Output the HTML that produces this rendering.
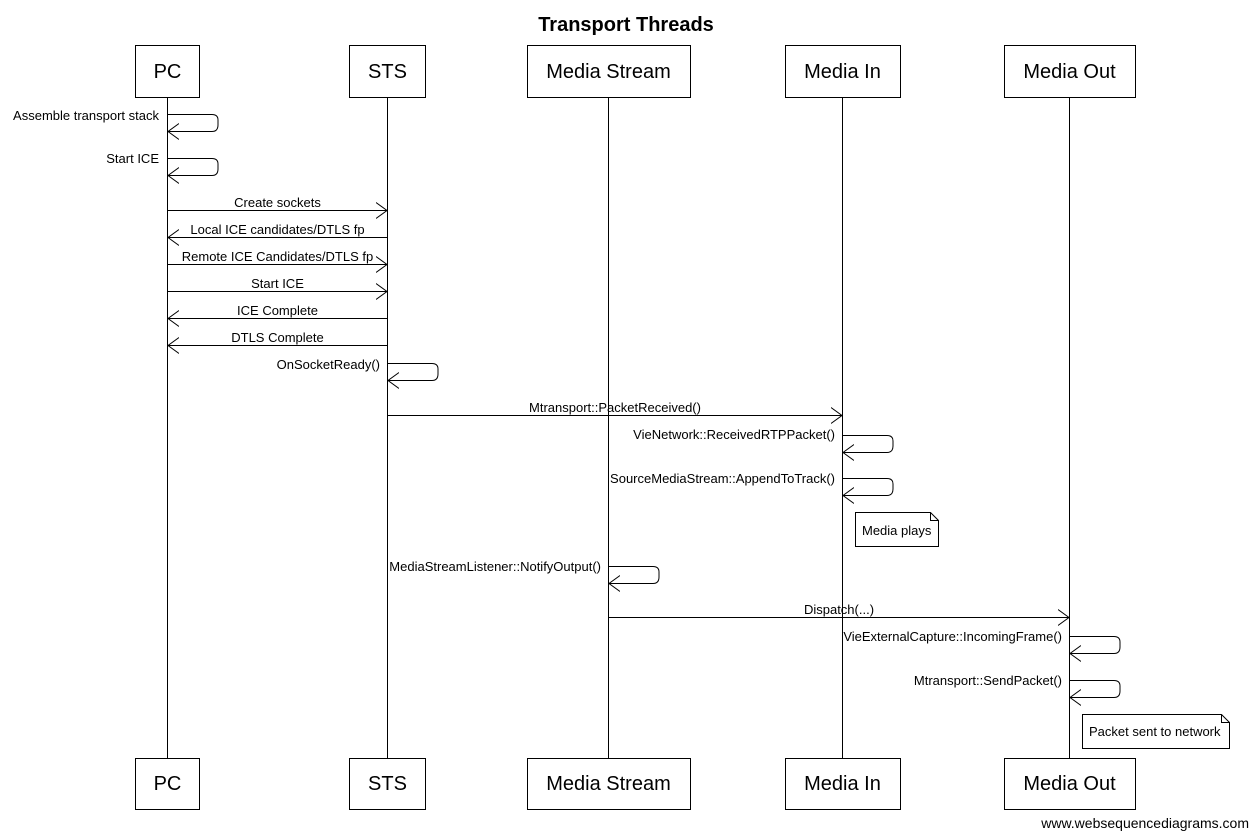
<!DOCTYPE html>
<html><head><meta charset="utf-8"><style>
html,body{margin:0;padding:0;background:#fff;}
svg{display:block;font-family:"Liberation Sans",Arial,sans-serif;}
</style></head><body>
<svg width="1250" height="831" viewBox="0 0 1250 831">
<defs>
<marker id="a" markerWidth="12" markerHeight="18" refX="11" refY="9" orient="auto" markerUnits="userSpaceOnUse">
<path d="M0,1 L11,9 L0,17" fill="none" stroke="#000" stroke-width="1"/>
</marker>
</defs>
<text x="626" y="31" text-anchor="middle" font-size="20" font-weight="bold">Transport Threads</text>
<g stroke="#000" stroke-width="1">
<line x1="167.5" y1="97" x2="167.5" y2="758"/>
<line x1="387.5" y1="97" x2="387.5" y2="758"/>
<line x1="608.5" y1="97" x2="608.5" y2="758"/>
<line x1="842.5" y1="97" x2="842.5" y2="758"/>
<line x1="1069.5" y1="97" x2="1069.5" y2="758"/>
</g>
<g fill="#fff" stroke="#000" stroke-width="1">
<rect x="135.5" y="45.5" width="64" height="52"/>
<rect x="349.5" y="45.5" width="76" height="52"/>
<rect x="527.5" y="45.5" width="163" height="52"/>
<rect x="785.5" y="45.5" width="115" height="52"/>
<rect x="1004.5" y="45.5" width="131" height="52"/>
<rect x="135.5" y="758.5" width="64" height="51"/>
<rect x="349.5" y="758.5" width="76" height="51"/>
<rect x="527.5" y="758.5" width="163" height="51"/>
<rect x="785.5" y="758.5" width="115" height="51"/>
<rect x="1004.5" y="758.5" width="131" height="51"/>
</g>
<g font-size="20" text-anchor="middle">
<text x="167.5" y="78">PC</text><text x="387.5" y="78">STS</text><text x="608.5" y="78">Media Stream</text><text x="842.5" y="78">Media In</text><text x="1069.5" y="78">Media Out</text>
<text x="167.5" y="790">PC</text><text x="387.5" y="790">STS</text><text x="608.5" y="790">Media Stream</text><text x="842.5" y="790">Media In</text><text x="1069.5" y="790">Media Out</text>
</g>
<g fill="none" stroke="#000" stroke-width="1" marker-end="url(#a)">
<path d="M168,114.5 H212 Q218,114.5 218,120 V125 Q218,131.5 212,131.5 H168"/>
<path d="M168,158.5 H212 Q218,158.5 218,164 V169 Q218,175.5 212,175.5 H168"/>
<path d="M388,363.5 H432 Q438,363.5 438,369 V374 Q438,380.5 432,380.5 H388"/>
<path d="M843,435.5 H887 Q893,435.5 893,441 V446 Q893,452.5 887,452.5 H843"/>
<path d="M843,478.5 H887 Q893,478.5 893,484 V489 Q893,495.5 887,495.5 H843"/>
<path d="M609,566.5 H653 Q659,566.5 659,572 V577 Q659,583.5 653,583.5 H609"/>
<path d="M1070,636.5 H1114 Q1120,636.5 1120,642 V647 Q1120,653.5 1114,653.5 H1070"/>
<path d="M1070,680.5 H1114 Q1120,680.5 1120,686 V691 Q1120,697.5 1114,697.5 H1070"/>
<line x1="168" y1="210.5" x2="387" y2="210.5"/>
<line x1="387" y1="237.5" x2="168" y2="237.5"/>
<line x1="168" y1="264.5" x2="387" y2="264.5"/>
<line x1="168" y1="291.5" x2="387" y2="291.5"/>
<line x1="387" y1="318.5" x2="168" y2="318.5"/>
<line x1="387" y1="345.5" x2="168" y2="345.5"/>
<line x1="388" y1="415.5" x2="842" y2="415.5"/>
<line x1="609" y1="617.5" x2="1069" y2="617.5"/>
</g>
<g font-size="13" text-anchor="end">
<text x="159" y="120">Assemble transport stack</text>
<text x="159" y="163">Start ICE</text>
<text x="380" y="369">OnSocketReady()</text>
<text x="835" y="439">VieNetwork::ReceivedRTPPacket()</text>
<text x="835" y="483">SourceMediaStream::AppendToTrack()</text>
<text x="601" y="571">MediaStreamListener::NotifyOutput()</text>
<text x="1062" y="641">VieExternalCapture::IncomingFrame()</text>
<text x="1062" y="685">Mtransport::SendPacket()</text>
</g>
<g font-size="13" text-anchor="middle">
<text x="277.5" y="207">Create sockets</text>
<text x="277.5" y="234">Local ICE candidates/DTLS fp</text>
<text x="277.5" y="261">Remote ICE Candidates/DTLS fp</text>
<text x="277.5" y="288">Start ICE</text>
<text x="277.5" y="315">ICE Complete</text>
<text x="277.5" y="342">DTLS Complete</text>
<text x="615" y="412">Mtransport::PacketReceived()</text>
<text x="839" y="614">Dispatch(...)</text>
</g>
<g fill="#fff" stroke="#000" stroke-width="1">
<path d="M855.5,512.5 H930.5 L938.5,520.5 V546.5 H855.5 Z"/>
<path d="M930.5,512.5 V520.5 H938.5" fill="none"/>
<path d="M1082.5,714.5 H1221.5 L1229.5,722.5 V748.5 H1082.5 Z"/>
<path d="M1221.5,714.5 V722.5 H1229.5" fill="none"/>
</g>
<text x="862" y="535" font-size="13">Media plays</text>
<text x="1089" y="736" font-size="13">Packet sent to network</text>
<text x="1249" y="828" font-size="14" text-anchor="end">www.websequencediagrams.com</text>
</svg>
</body></html>
